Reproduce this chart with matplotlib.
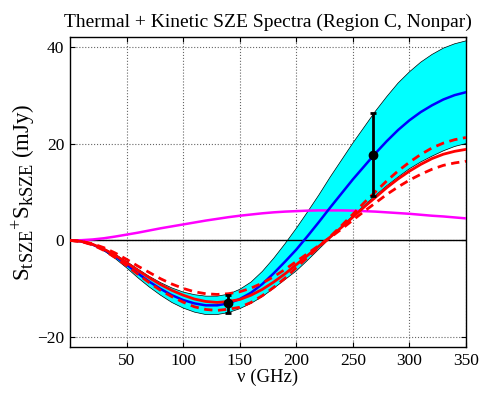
import numpy as np
import matplotlib
matplotlib.use("Agg")
import matplotlib.pyplot as plt
import matplotlib._mathtext as mathtext_internal

plt.rcParams['font.family'] = ['Liberation Serif', 'DejaVu Serif']
plt.rcParams['mathtext.fontset'] = 'stix'
# MATLAB style subscripts are only a little smaller than the text
mathtext_internal.SHRINK_FACTOR = 0.8

# frequency grid (GHz)
nu = np.arange(0, 351, 10)

# best fit tSZE + kSZE (blue)
total = [0, -0.2, -0.85, -1.9, -3.3, -5.0, -6.8, -8.5, -10.0, -11.3,
         -12.3, -13.0, -13.4, -13.4, -13.0, -12.1, -10.8, -9.0, -6.8, -4.4,
         -1.9, 0.9, 3.8, 6.8, 9.7, 12.6, 15.3, 18.0, 20.5, 22.8,
         24.8, 26.5, 27.9, 29.1, 30.0, 30.6]

# uncertainty band (cyan)
band_hi = [0, -0.18, -0.75, -1.65, -2.85, -4.35, -5.9, -7.4, -8.7, -9.8,
           -10.65, -11.2, -11.5, -11.5, -11.1, -10.1, -8.6, -6.4, -3.7, -0.7,
           2.5, 5.9, 9.4, 13.1, 16.6, 20.1, 23.4, 26.7, 29.7, 32.5,
           34.8, 36.8, 38.4, 39.7, 40.6, 41.2]
band_lo = [0, -0.22, -0.95, -2.15, -3.75, -5.65, -7.7, -9.6, -11.3, -12.8,
           -13.95, -14.8, -15.3, -15.3, -14.9, -14.1, -13.0, -11.6, -9.9, -8.1,
           -6.3, -4.1, -1.8, 0.5, 2.8, 5.1, 7.2, 9.3, 11.3, 13.1,
           14.8, 16.2, 17.4, 18.5, 19.4, 20.0]

# thermal only (red) and its range (red dashed)
thermal = [0, -0.2, -0.8, -1.8, -3.1, -4.6, -6.2, -7.7, -9.1, -10.3,
           -11.3, -12.1, -12.6, -12.8, -12.6, -12.2, -11.3, -10.1, -8.6, -6.9,
           -5.0, -3.1, -1.2, 0.7, 2.7, 4.8, 6.9, 8.9, 10.9, 12.7,
           14.3, 15.7, 16.9, 17.8, 18.4, 18.8]
thermal_a = [0, -0.17, -0.68, -1.5, -2.6, -3.9, -5.3, -6.6, -7.9, -9.0,
             -9.9, -10.6, -11.0, -11.15, -11.0, -10.6, -9.85, -8.8, -7.5, -6.0,
             -4.35, -2.7, -1.05, 0.6, 2.35, 4.2, 6.0, 7.75, 9.5, 11.05,
             12.45, 13.65, 14.7, 15.5, 16.0, 16.35]
thermal_b = [0, -0.23, -0.92, -2.05, -3.55, -5.2, -7.0, -8.7, -10.3, -11.6,
             -12.75, -13.7, -14.25, -14.45, -14.2, -13.8, -12.8, -11.4, -9.7, -7.8,
             -5.65, -3.5, -1.35, 0.8, 3.05, 5.4, 7.8, 10.05, 12.3, 14.35,
             16.15, 17.75, 19.1, 20.1, 20.8, 21.25]

# kinetic only (magenta)
kinetic = [0, 0.05, 0.2, 0.45, 0.8, 1.2, 1.6, 2.05, 2.5, 2.9,
           3.3, 3.7, 4.1, 4.45, 4.8, 5.1, 5.35, 5.6, 5.8, 5.95,
           6.05, 6.15, 6.2, 6.2, 6.2, 6.15, 6.05, 5.95, 5.8, 5.65,
           5.5, 5.3, 5.1, 4.95, 4.75, 4.55]

# measurements
obs_nu = [140, 268]
obs_flux = [-13.0, 17.7]
obs_err_lo = [1.9, 8.6]
obs_err_hi = [1.7, 8.6]

fig = plt.figure(figsize=(4.85, 3.94), dpi=100)
ax = fig.add_axes([0.1443, 0.1193, 0.8165, 0.7868])

ax.fill_between(nu, band_lo, band_hi, facecolor='cyan', edgecolor='none', zorder=1)
ax.plot(nu, band_hi, color='k', lw=0.5, zorder=2)
ax.plot(nu, band_lo, color='k', lw=0.5, zorder=2)
ax.axhline(0, color='k', lw=1.0, zorder=2)

ax.plot(nu, kinetic, color='magenta', lw=1.8, zorder=3)
ax.plot(nu, total, color='blue', lw=1.8, zorder=3)
ax.plot(nu, thermal, color='red', lw=2.0, zorder=4)
ax.plot(nu, thermal_a, color='red', lw=2.0, ls=(0, (3, 2)), zorder=4)
ax.plot(nu, thermal_b, color='red', lw=2.0, ls=(0, (3, 2)), zorder=4)

ax.errorbar(obs_nu, obs_flux, yerr=[obs_err_lo, obs_err_hi], fmt='o', color='k',
            ms=6, lw=2, capsize=2.5, capthick=2, zorder=5)

ax.set_xlim(0, 350)
ax.set_ylim(-22, 42)
ax.set_xticks([50, 100, 150, 200, 250, 300, 350])
ax.set_yticks([-20, 0, 20, 40])
ax.grid(True, ls=':', color='0.4', lw=0.8)
ax.set_axisbelow(True)
ax.tick_params(direction='in', top=True, right=True, length=3.5, labelsize=12.5, pad=4)
for s in ax.spines.values():
    s.set_linewidth(1.0)

ax.set_title("Thermal + Kinetic SZE Spectra (Region C, Nonpar)", fontsize=14, pad=7)
ax.set_xlabel("ν (GHz)", fontsize=13.5, labelpad=0)
ax.set_ylabel(r"$\mathregular{S_{tSZE}{}^{+}S_{kSZE}}$ (mJy)", fontsize=16.5, labelpad=0)

fig.savefig("out.png", dpi=100)
